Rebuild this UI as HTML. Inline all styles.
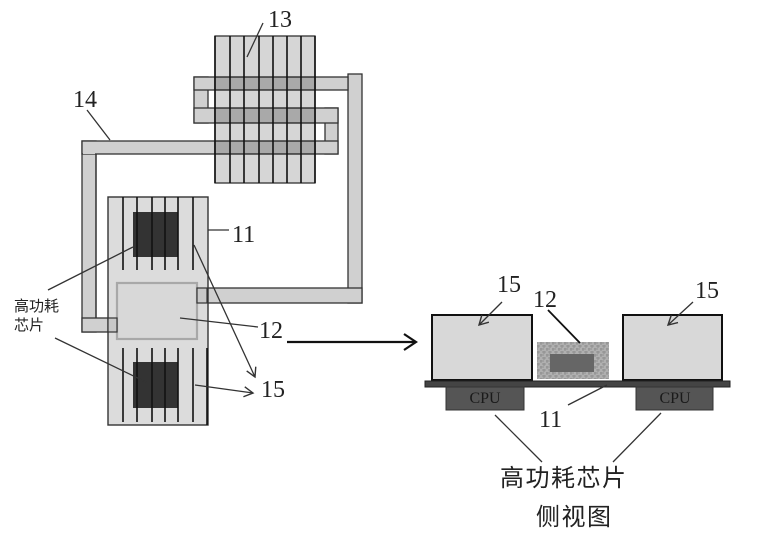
<!DOCTYPE html>
<html><head><meta charset="utf-8"><style>
html,body{margin:0;padding:0;background:#fff;}
svg{display:block;}
.num{font-family:"Liberation Serif",serif;font-size:24px;fill:#222;}
.cj{font-family:"Liberation Sans","Noto Sans CJK SC",sans-serif;fill:#222;}
</style></head><body>
<svg width="763" height="534" viewBox="0 0 763 534" xmlns="http://www.w3.org/2000/svg">
<defs>
<marker id="ah" markerWidth="12" markerHeight="12" refX="10" refY="6" orient="auto" markerUnits="userSpaceOnUse">
<path d="M1,1 L10,6 L1,11" fill="none" stroke="#333" stroke-width="1.4"/>
</marker>
<marker id="ah2" markerWidth="16" markerHeight="20" refX="14" refY="10" orient="auto" markerUnits="userSpaceOnUse">
<path d="M2,2 L14,10 L2,18" fill="none" stroke="#111" stroke-width="2.2"/>
</marker>
<pattern id="tex" width="6" height="6" patternUnits="userSpaceOnUse">
<rect width="6" height="6" fill="#b0b0b0"/>
<path d="M0,1h4M2,4h4M1,0v3M4,3v3" stroke="#888" stroke-width="0.8"/>
</pattern>
</defs>

<!-- Right vertical pipe and lower horizontal pipe -->
<rect x="348" y="74" width="14" height="229" fill="#d0d0d0" stroke="#333" stroke-width="1.3"/>
<rect x="197" y="288" width="165" height="15" fill="#d0d0d0" stroke="#333" stroke-width="1.3"/>
<rect x="349" y="289" width="12" height="13" fill="#d0d0d0"/>

<!-- Left pipe 14 -->
<rect x="82" y="141" width="14" height="191" fill="#d0d0d0" stroke="#333" stroke-width="1.3"/>
<rect x="82" y="318" width="35" height="14" fill="#d0d0d0" stroke="#333" stroke-width="1.3"/>
<rect x="83" y="319" width="12" height="12" fill="#d0d0d0"/>

<!-- Heat pipe loop around fins -->
<rect x="194" y="77" width="14" height="46" fill="#d0d0d0" stroke="#333" stroke-width="1.3"/>
<rect x="325" y="108" width="13" height="46" fill="#d0d0d0" stroke="#333" stroke-width="1.3"/>
<rect x="194" y="77" width="154" height="13" fill="#d0d0d0" stroke="#333" stroke-width="1.3"/>
<rect x="194" y="108" width="144" height="15" fill="#d0d0d0" stroke="#333" stroke-width="1.3"/>
<rect x="82" y="141" width="256" height="13" fill="#d0d0d0" stroke="#333" stroke-width="1.3"/>
<rect x="83" y="142" width="12" height="12" fill="#d0d0d0"/>
<line x1="96" y1="154" x2="96" y2="318" stroke="#333" stroke-width="1.3"/>

<!-- Fins 13 -->
<rect x="215" y="36" width="100" height="147" fill="#d6d6d6" stroke="#333" stroke-width="1.3"/>
<rect x="215" y="77" width="100" height="13" fill="#a9a9a9" stroke="#222" stroke-width="1.3"/>
<rect x="215" y="108" width="100" height="15" fill="#a9a9a9" stroke="#222" stroke-width="1.3"/>
<rect x="215" y="141" width="100" height="13" fill="#a9a9a9" stroke="#222" stroke-width="1.3"/>
<g stroke="#111" stroke-width="1.6">
<line x1="230" y1="36" x2="230" y2="183"/>
<line x1="244" y1="36" x2="244" y2="183"/>
<line x1="259" y1="36" x2="259" y2="183"/>
<line x1="273" y1="36" x2="273" y2="183"/>
<line x1="287" y1="36" x2="287" y2="183"/>
<line x1="301" y1="36" x2="301" y2="183"/>
<line x1="215" y1="36" x2="215" y2="183"/>
<line x1="315" y1="36" x2="315" y2="183"/>
</g>

<!-- Board 11 top view -->
<rect x="108" y="197" width="100" height="228" fill="#dcdcdc" stroke="#333" stroke-width="1.4"/>
<rect x="133" y="212" width="45" height="45" fill="#333"/>
<rect x="133" y="362" width="45" height="46" fill="#333"/>
<g stroke="#111" stroke-width="1.6">
<line x1="123" y1="197" x2="123" y2="270"/>
<line x1="137" y1="197" x2="137" y2="270"/>
<line x1="152" y1="197" x2="152" y2="270"/>
<line x1="165" y1="197" x2="165" y2="270"/>
<line x1="178" y1="197" x2="178" y2="270"/>
<line x1="193" y1="197" x2="193" y2="270"/>
<line x1="123" y1="348" x2="123" y2="422"/>
<line x1="137" y1="348" x2="137" y2="422"/>
<line x1="152" y1="348" x2="152" y2="422"/>
<line x1="165" y1="348" x2="165" y2="422"/>
<line x1="178" y1="348" x2="178" y2="422"/>
<line x1="193" y1="348" x2="193" y2="422"/>
<line x1="207" y1="348" x2="207" y2="425"/>
</g>
<!-- chip 12 top view -->
<rect x="117" y="283" width="80" height="56" fill="#d8d8d8" stroke="#a8a8a8" stroke-width="2.2"/>
<!-- pipe ends over chip -->
<rect x="197" y="288" width="10" height="15" fill="#c8c8c8" stroke="#333" stroke-width="1.2"/>
<rect x="108" y="318" width="9" height="14" fill="#c8c8c8" stroke="#333" stroke-width="1.2"/>

<!-- Leader lines top view -->
<g stroke="#333" stroke-width="1.3" fill="none">
<line x1="263" y1="23" x2="247" y2="57"/>
<line x1="87" y1="110" x2="110" y2="140"/>
<line x1="208" y1="230" x2="229" y2="230"/>
<line x1="180" y1="318" x2="258" y2="327"/>
<line x1="48" y1="290" x2="133" y2="247"/>
<line x1="55" y1="338" x2="148" y2="383"/>
<line x1="194" y1="245" x2="255" y2="377" marker-end="url(#ah)"/>
<line x1="195" y1="385" x2="253" y2="393" marker-end="url(#ah)"/>
</g>

<!-- Labels top view -->
<text class="num" x="268" y="27">13</text>
<text class="num" x="73" y="107">14</text>
<text class="num" x="232" y="242">11</text>
<text class="num" x="259" y="338">12</text>
<text class="num" x="261" y="397">15</text>
<text class="cj" x="14" y="311" font-size="15">高功耗</text>
<text class="cj" x="14" y="330" font-size="15">芯片</text>

<!-- Big arrow -->
<line x1="287" y1="342" x2="416" y2="342" stroke="#111" stroke-width="2.2" marker-end="url(#ah2)"/>

<!-- Side view -->
<rect x="432" y="315" width="100" height="65" fill="#d8d8d8" stroke="#111" stroke-width="2"/>
<rect x="623" y="315" width="99" height="65" fill="#d8d8d8" stroke="#111" stroke-width="2"/>
<rect x="537" y="342" width="72" height="37" fill="url(#tex)"/>
<rect x="550" y="354" width="44" height="18" fill="#666"/>
<rect x="425" y="381" width="305" height="6" fill="#444" stroke="#222" stroke-width="1"/>
<rect x="446" y="387" width="78" height="23" fill="#555" stroke="#333" stroke-width="1"/>
<rect x="636" y="387" width="77" height="23" fill="#555" stroke="#333" stroke-width="1"/>
<text x="485" y="403" font-family="Liberation Serif,serif" font-size="16" fill="#1a1a1a" text-anchor="middle">CPU</text>
<text x="675" y="403" font-family="Liberation Serif,serif" font-size="16" fill="#1a1a1a" text-anchor="middle">CPU</text>

<g stroke="#333" stroke-width="1.3" fill="none">
<line x1="502" y1="302" x2="479" y2="325" marker-end="url(#ah)"/>
<line x1="693" y1="302" x2="668" y2="325" marker-end="url(#ah)"/>
<line x1="548" y1="310" x2="580" y2="343" stroke="#111" stroke-width="1.8"/>
<line x1="568" y1="405" x2="607" y2="385"/>
<line x1="495" y1="415" x2="542" y2="462"/>
<line x1="661" y1="413" x2="613" y2="462"/>
</g>

<text class="num" x="497" y="292">15</text>
<text class="num" x="533" y="307">12</text>
<text class="num" x="695" y="298">15</text>
<text class="num" x="539" y="427">11</text>

<text class="cj" x="500" y="486" font-size="24" letter-spacing="1.5">高功耗芯片</text>
<text class="cj" x="536" y="525" font-size="24" letter-spacing="1.5">侧视图</text>
</svg>
</body></html>
